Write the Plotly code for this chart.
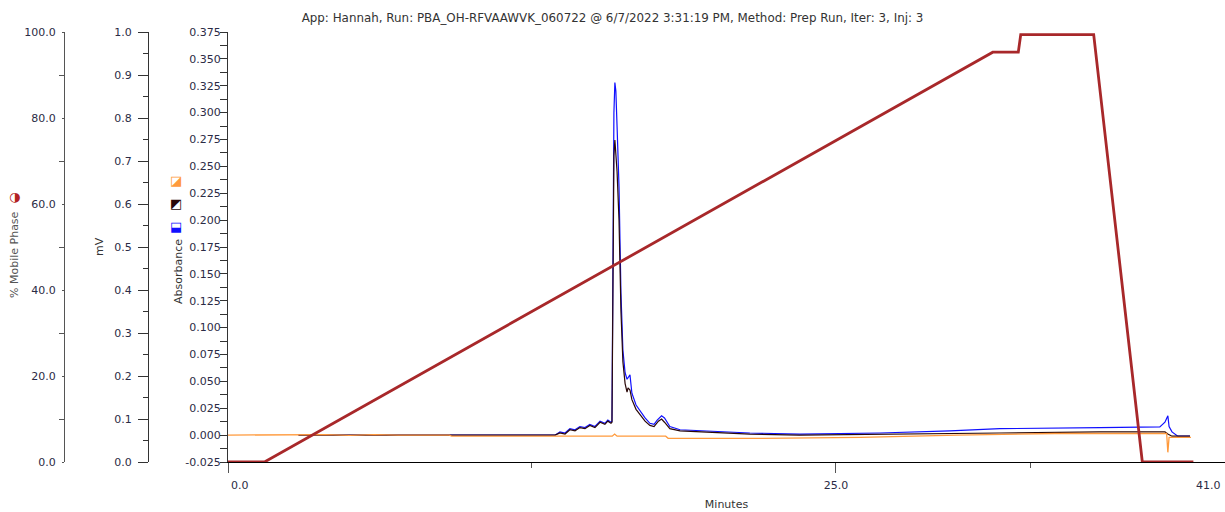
import plotly.graph_objects as go

W, H = 1225, 512

# % mobile phase (gradient) vs minutes
grad_t = [0.0, 1.5, 31.45, 32.5, 32.6, 35.6, 37.6, 39.7]
grad_pct = [0.0, 0.0, 95.3, 95.3, 99.4, 99.4, 0.0, 0.0]

# absorbance channel 1 (orange)
orange_t = [0.0, 3.0, 4.0, 5.0, 6.0, 7.0, 9.1, 9.2, 15.8, 15.9, 16.0, 18.0, 18.1,
            22.0, 26.0, 30.0, 34.0, 38.6, 38.65, 38.7, 39.6]
orange_abs = [0.0, 0.0, 0.0005, -0.0003, 0.0004, 0.0, 0.0, -0.001, -0.001, 0.001, -0.001,
              -0.001, -0.003, -0.003, -0.002, 0.0, 0.0015, 0.0015, -0.016, -0.002, -0.002]

# absorbance channel 2 (blue)
blue_t = [2.9, 6.7, 7.3, 13.45, 13.65, 13.86, 14.06, 14.27, 14.47, 14.68, 14.88, 15.09,
          15.30, 15.50, 15.62, 15.75, 15.79, 15.83, 15.87, 15.91, 15.95, 16.00, 16.08,
          16.16, 16.24, 16.33, 16.41, 16.53, 16.61, 16.78, 16.94, 17.15, 17.35, 17.52,
          17.65, 17.83, 17.95, 18.05, 18.17, 18.59, 19.41, 21.46, 23.52, 26.81, 29.69,
          31.74, 35.86, 38.32, 38.53, 38.65, 38.70, 38.82, 39.06, 39.56]
blue_abs = [0.0, 0.0, 0.0, 0.0, 0.003, 0.002, 0.006, 0.005, 0.008, 0.007, 0.010, 0.008,
            0.013, 0.011, 0.014, 0.012, 0.013, 0.19, 0.30, 0.328, 0.32, 0.287, 0.231,
            0.132, 0.079, 0.058, 0.052, 0.056, 0.039, 0.028, 0.023, 0.016, 0.011, 0.010,
            0.014, 0.018, 0.016, 0.012, 0.008, 0.005, 0.004, 0.002, 0.001, 0.002, 0.004,
            0.006, 0.007, 0.0077, 0.012, 0.018, 0.008, 0.003, -0.001, -0.001]

# absorbance channel 3 (dark)
dark_t = [2.9, 13.45, 13.65, 13.86, 14.06, 14.27, 14.47, 14.68, 14.88, 15.09, 15.30,
          15.50, 15.62, 15.75, 15.79, 15.83, 15.87, 15.91, 15.95, 16.00, 16.08, 16.16,
          16.24, 16.33, 16.41, 16.45, 16.53, 16.61, 16.78, 16.94, 17.15, 17.35, 17.52,
          17.70, 17.83, 17.95, 18.17, 18.59, 19.41, 21.46, 23.5, 26.81, 29.69, 31.74,
          35.86, 38.53, 38.65, 38.82, 39.56]
dark_abs = [0.0, 0.0, 0.002, 0.001, 0.005, 0.004, 0.007, 0.006, 0.009, 0.007, 0.012,
            0.010, 0.013, 0.011, 0.012, 0.15, 0.26, 0.2745, 0.26, 0.245, 0.20, 0.115,
            0.068, 0.048, 0.040, 0.044, 0.042, 0.033, 0.024, 0.019, 0.013, 0.009, 0.008,
            0.013, 0.015, 0.012, 0.006, 0.004, 0.003, 0.001, 0.0, 0.001, 0.002, 0.002,
            0.003, 0.003, 0.001, -0.001, -0.001]

abs_ticks = [-0.025 + 0.025 * i for i in range(17)]
abs_labels = ["%.3f" % v for v in abs_ticks]
x_ticks = [0, 25, 41]
x_labels = ["0.0", "25.0", "41.0"]
x_minor = [12.5, 33]

title = "App: Hannah, Run: PBA_OH-RFVAAWVK_060722 @ 6/7/2022 3:31:19 PM, Method: Prep Run, Iter: 3, Inj: 3"

FONT = "DejaVu Sans"
LBL = "#2b2b45"

def px_x(p):
    return p / W

def px_y(p):
    # paper y from pixel row (plot area 32..462)
    return (462 - p) / 430

fig = go.Figure()
fig.add_trace(go.Scatter(x=blue_t, y=blue_abs, mode="lines",
                         line=dict(color="#1010ff", width=1.2), name="ch2"))
fig.add_trace(go.Scatter(x=dark_t, y=dark_abs, mode="lines",
                         line=dict(color="#2a0808", width=1.2), name="ch3"))
fig.add_trace(go.Scatter(x=orange_t, y=orange_abs, mode="lines",
                         line=dict(color="#ff9a3c", width=1.3), name="ch1"))
fig.add_trace(go.Scatter(x=[None], y=[None], xaxis="x2", yaxis="y2", hoverinfo="skip"))
fig.add_trace(go.Scatter(x=grad_t, y=grad_pct, yaxis="y3", mode="lines",
                         line=dict(color="#a8282a", width=2.8), name="%B"))

tickfont = dict(family=FONT, size=11, color=LBL)

fig.update_layout(
    width=W, height=H,
    margin=dict(l=0, r=0, t=32, b=50),
    plot_bgcolor="white", paper_bgcolor="white",
    showlegend=False,
    font=dict(family=FONT, size=11, color="#333"),
    title=dict(text=title, x=0.5, xanchor="center", y=1 - 18 / H, yanchor="middle",
               yref="container", font=dict(family=FONT, size=11.9, color="#333")),
    xaxis=dict(domain=[px_x(228), 1], range=[0, 41], showgrid=False, zeroline=False,
               showline=True, linecolor="#000", linewidth=1,
               ticks="outside", ticklen=10, tickcolor="#555",
               tickvals=x_ticks, ticktext=["", x_labels[1], ""], tickfont=tickfont,
               ticklabelstandoff=3, automargin=False,
               title=dict(text="Minutes", standoff=9, font=dict(size=11, color="#333"))),
    xaxis2=dict(overlaying="x", anchor="y", range=[0, 41], domain=[px_x(228), 1],
                showgrid=False, zeroline=False, showline=False,
                ticks="outside", ticklen=5, tickcolor="#555",
                tickvals=x_minor, showticklabels=False),
    yaxis=dict(range=[-0.025, 0.375], showgrid=False, zeroline=False,
               showline=True, linecolor="#333", linewidth=1,
               ticks="outside", ticklen=4, tickcolor="#333",
               tickvals=abs_ticks, ticktext=abs_labels, tickfont=tickfont,
               minor=dict(ticks="outside", ticklen=7, dtick=0.0125, tick0=-0.025,
                          tickcolor="#333")),
    yaxis2=dict(overlaying="y", anchor="free", position=px_x(148), side="left",
                range=[0, 1], showgrid=False, zeroline=False,
                showline=True, linecolor="#333", linewidth=1,
                ticks="outside", ticklen=10, tickcolor="#333",
                dtick=0.1, tick0=0, tickformat=".1f", tickfont=tickfont,
                ticklabelstandoff=4,
                minor=dict(ticks="outside", ticklen=5, dtick=0.05, tickcolor="#333")),
    yaxis3=dict(overlaying="y", anchor="free", position=px_x(64), side="left",
                range=[0, 100], showgrid=False, zeroline=False,
                showline=True, linecolor="#555", linewidth=1,
                ticks="outside", ticklen=2, tickcolor="#555",
                dtick=20, tick0=0, tickformat=".1f", tickfont=tickfont,
                ticklabelstandoff=4,
                minor=dict(ticks="outside", ticklen=5, dtick=10, tickcolor="#555")),
)

ann = []
# edge labels of the time axis
ann.append(dict(x=x_ticks[0], xref="x", y=px_y(485), yref="paper", text=x_labels[0],
                showarrow=False, xanchor="left", yanchor="middle", xshift=1,
                font=tickfont))
ann.append(dict(x=x_ticks[2], xref="x", y=px_y(485), yref="paper", text=x_labels[2],
                showarrow=False, xanchor="right", yanchor="middle", xshift=-2,
                font=tickfont))
# axis titles
titles = [("% Mobile Phase", "#555", 15, 255), ("mV", "#333", 100, 246),
          ("Absorbance", "#333", 178, 272)]
for txt, col, tx, ty in titles:
    ann.append(dict(x=px_x(tx), xref="paper", y=px_y(ty), yref="paper", text=txt,
                    textangle=-90, showarrow=False, xanchor="center", yanchor="middle",
                    font=dict(size=11, color=col)))
# series icons
icons = [("◑", "#b22222", 14, 196), ("◪", "#ff9a3c", 176, 180),
         ("◩", "#2a0808", 176, 203), ("⬓", "#1010ff", 176, 226)]
for ch, col, ix, iy in icons:
    ann.append(dict(x=px_x(ix), xref="paper", y=px_y(iy), yref="paper", text=ch,
                    showarrow=False, xanchor="center", yanchor="middle",
                    font=dict(size=13, color=col)))
fig.update_layout(annotations=ann)

fig.write_html("out.html", config={"displayModeBar": False},
               post_script="document.body.style.margin='0';")
